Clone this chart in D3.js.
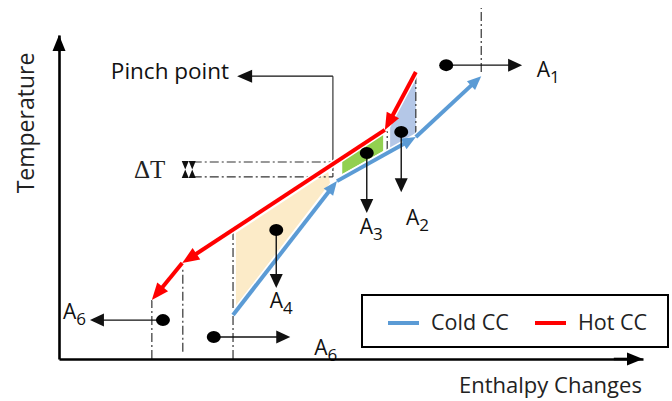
<!DOCTYPE html>
<html>
<head>
<meta charset="utf-8">
<script src="https://cdn.jsdelivr.net/npm/d3@7"></script>
<style>
	body { margin: 0; background: #fff; }
	text { font-family: 'Open Sans', sans-serif; fill: #222; }
</style>
</head>
<body>
<div class="content"></div>
<script>
const w = 672;
const h = 401;

// composite curves (enthalpy H, temperature T, arbitrary 0-100 units)
const hotH = [61.1, 55.8, 21.1, 15.9];
const hotT = [88.6, 70.7, 29.6, 18.2];
const coldH = [29.8, 47.6, 61.1, 72.3];
const coldT = [13.6, 54.9, 68.5, 87.3];

// shaded regions between the curves
const beigeH = [30.3, 30.3, 46.4, 46.1];
const beigeT = [38.9, 16.4, 54.3, 57.7];
const greenH = [48.5, 55.5, 55.5, 48.5];
const greenT = [61.1, 69.4, 64.2, 57.1];
const blueH = [56.7, 61.1, 61.1, 56.7];
const blueT = [72.8, 88.6, 69.4, 65.1];

// vertical guide lines
const guideH = [15.9, 21.2, 29.8, 56.2, 61.1, 72.3];
const guideT0 = [0, 2.2, 0, 64.5, 69.1, 88.6];
const guideT1 = [18.2, 28.7, 39.2, 70.4, 88.6, 108.3];

// pinch / delta T
const deltaT = [56.2, 60.8];
const deltaH = [22.9, 46.9];
const pinchH = [46.9, 46.9, 30.5];
const pinchT = [60.8, 87.3, 87.3];

// heat flow annotations A1..A6
const flowSub = ['1', '2', '3', '4', '6', '6'];
const flowDotH = [66.3, 58.6, 52.7, 37.2, 17.8, 26.5];
const flowDotT = [90.7, 70.1, 63.6, 39.8, 12.0, 6.8];
const flowTipH = [79.3, 58.6, 52.7, 37.2, 5.3, 39.6];
const flowTipT = [90.7, 51.5, 45.1, 21.9, 12.0, 6.8];
const flowTextH = [81.8, 59.4, 51.5, 36.1, 0.7, 43.7];
const flowTextT = [87.0, 41.4, 38.6, 15.7, 12.3, 1.2];

const legendNames = ['Cold CC', 'Hot CC'];

const hotColor = '#ff0000';
const coldColor = '#5b9bd5';

const xScale = d3.scaleLinear().domain([0, 100]).range([59, 643]);
const yScale = d3.scaleLinear().domain([0, 100]).range([359, 35]);

const svg = d3.select('.content').append('svg')
	.attr('width', w)
	.attr('height', h);

function arrow(g, x1, y1, x2, y2, color, sw, len, wid) {
	const a = Math.atan2(y2 - y1, x2 - x1);
	const c = Math.cos(a), s = Math.sin(a);
	const bx = x2 - len * c, by = y2 - len * s;
	g.append('line')
		.attr('x1', x1).attr('y1', y1)
		.attr('x2', x2 - len * 0.6 * c).attr('y2', y2 - len * 0.6 * s)
		.attr('stroke', color)
		.attr('stroke-width', sw);
	g.append('path')
		.attr('d', `M${x2},${y2}L${bx + wid / 2 * s},${by - wid / 2 * c}L${bx - wid / 2 * s},${by + wid / 2 * c}Z`)
		.attr('fill', color);
}

const pts = (hs, ts) => hs.map((d, i) => [xScale(d), yScale(ts[i])].join(',')).join(' ');

// fills
[[beigeH, beigeT, '#fcebc8'], [greenH, greenT, '#92d050'], [blueH, blueT, '#b4c7e7']].forEach(([hs, ts, col]) => {
	svg.append('polygon')
		.attr('points', pts(hs, ts))
		.attr('fill', col);
});

// guides
guideH.forEach((d, i) => {
	svg.append('line')
		.attr('x1', xScale(d)).attr('x2', xScale(d))
		.attr('y1', yScale(guideT0[i])).attr('y2', yScale(guideT1[i]))
		.attr('stroke', '#333')
		.attr('stroke-width', 1.2)
		.attr('stroke-dasharray', '9,3,2,3');
});

deltaT.forEach((d) => {
	svg.append('line')
		.attr('x1', xScale(deltaH[0])).attr('x2', xScale(deltaH[1]))
		.attr('y1', yScale(d)).attr('y2', yScale(d))
		.attr('stroke', '#333')
		.attr('stroke-width', 1.2)
		.attr('stroke-dasharray', '9,3,2,3');
});
svg.append('line')
	.attr('x1', xScale(deltaH[1])).attr('x2', xScale(deltaH[1]))
	.attr('y1', yScale(deltaT[0])).attr('y2', yScale(deltaT[1]))
	.attr('stroke', '#333')
	.attr('stroke-width', 1.2)
	.attr('stroke-dasharray', '4,2');

// delta T marker
const mx = xScale(deltaH[0]) - 4;
const mt = yScale(deltaT[1]) - 1, mb = yScale(deltaT[0]) + 1;
svg.append('path')
	.attr('d', `M${mx - 7},${mt}L${mx + 7},${mt}L${mx},${mb}Z M${mx - 7},${mb}L${mx + 7},${mb}L${mx},${mt}Z`)
	.attr('fill', '#111');
svg.append('text')
	.attr('x', 134).attr('y', mb)
	.style('font-family', "'Liberation Serif', serif")
	.style('font-size', '25px')
	.text('ΔT');

// pinch point connector
svg.append('polyline')
	.attr('points', pts(pinchH.slice(0, 2), pinchT.slice(0, 2)))
	.attr('fill', 'none')
	.attr('stroke', '#444')
	.attr('stroke-width', 1.3);
arrow(svg, xScale(pinchH[1]), yScale(pinchT[1]), xScale(pinchH[2]), yScale(pinchT[2]), '#111', 1.3, 15, 13);
svg.append('text')
	.attr('x', xScale(pinchH[2]) - 8)
	.attr('y', yScale(pinchT[2]) + 3)
	.attr('text-anchor', 'end')
	.style('font-size', '22.5px')
	.style('font-weight', 500)
	.style('fill', '#111')
	.text('Pinch point');

// composite curves with white halo
function curve(hs, ts, col, len, wid) {
	for (let i = 0; i < hs.length - 1; i++) {
		svg.append('line')
			.attr('x1', xScale(hs[i])).attr('y1', yScale(ts[i]))
			.attr('x2', xScale(hs[i + 1])).attr('y2', yScale(ts[i + 1]))
			.attr('stroke', '#fff')
			.attr('stroke-width', 7);
	}
	for (let i = 0; i < hs.length - 1; i++) {
		arrow(svg, xScale(hs[i]), yScale(ts[i]), xScale(hs[i + 1]), yScale(ts[i + 1]), col, 4, len, wid);
	}
}
curve(coldH, coldT, coldColor, 14, 12);
curve(hotH, hotT, hotColor, 17, 14);

// flow annotations
flowSub.forEach((d, i) => {
	const x0 = xScale(flowDotH[i]), y0 = yScale(flowDotT[i]);
	arrow(svg, x0, y0, xScale(flowTipH[i]), yScale(flowTipT[i]), '#111', 1.4, 14, 13);
	svg.append('ellipse')
		.attr('cx', x0).attr('cy', y0)
		.attr('rx', 7).attr('ry', 6)
		.attr('fill', '#000');
	const t = svg.append('text')
		.attr('x', xScale(flowTextH[i]))
		.attr('y', yScale(flowTextT[i]))
		.style('font-size', '21px')
		.style('fill', '#111');
	t.append('tspan').text('A');
	t.append('tspan').attr('dy', 6).style('font-size', '17px').text(d);
});

// axes
const xAxis = d3.axisBottom(xScale).tickValues([]).tickSizeOuter(0);
const yAxis = d3.axisLeft(yScale).tickValues([]).tickSizeOuter(0);

svg.append('g')
	.attr('transform', 'translate(0,' + yScale(0) + ')')
	.attr('id', 'x-axis')
	.call(xAxis)
	.select('.domain')
	.attr('stroke', '#000')
	.attr('stroke-width', 2.6);

svg.append('g')
	.attr('transform', 'translate(' + xScale(0) + ',0)')
	.attr('id', 'y-axis')
	.call(yAxis)
	.select('.domain')
	.attr('stroke', '#000')
	.attr('stroke-width', 2.6);

arrow(svg, xScale(95), yScale(0), xScale(100), yScale(0), '#000', 2.6, 16, 13);
arrow(svg, xScale(0), yScale(95), xScale(0), yScale(100), '#000', 2.6, 16, 13);

svg.append('text')
	.attr('transform', 'translate(34,' + ((yScale(0) + yScale(100)) / 2 - 74) + ') rotate(-90)')
	.attr('text-anchor', 'middle')
	.style('font-size', '23px')
	.text('Temperature');

svg.append('text')
	.attr('x', 459).attr('y', 393)
	.style('font-size', '22px')
	.text('Enthalpy Changes');

// legend
const legend = svg.append('g').attr('id', 'legend');
legend.append('rect')
	.attr('x', 362).attr('y', 295)
	.attr('width', 306).attr('height', 52)
	.attr('fill', '#fff')
	.attr('stroke', '#000')
	.attr('stroke-width', 2);
[coldColor, hotColor].forEach((col, i) => {
	const lx = 388 + i * 147;
	legend.append('line')
		.attr('x1', lx).attr('x2', lx + 31)
		.attr('y1', 323).attr('y2', 323)
		.attr('stroke', col)
		.attr('stroke-width', 4);
	legend.append('text')
		.attr('x', lx + 43).attr('y', 330)
		.style('font-size', '21.5px')
		.text(legendNames[i]);
});
</script>
</body>
</html>
